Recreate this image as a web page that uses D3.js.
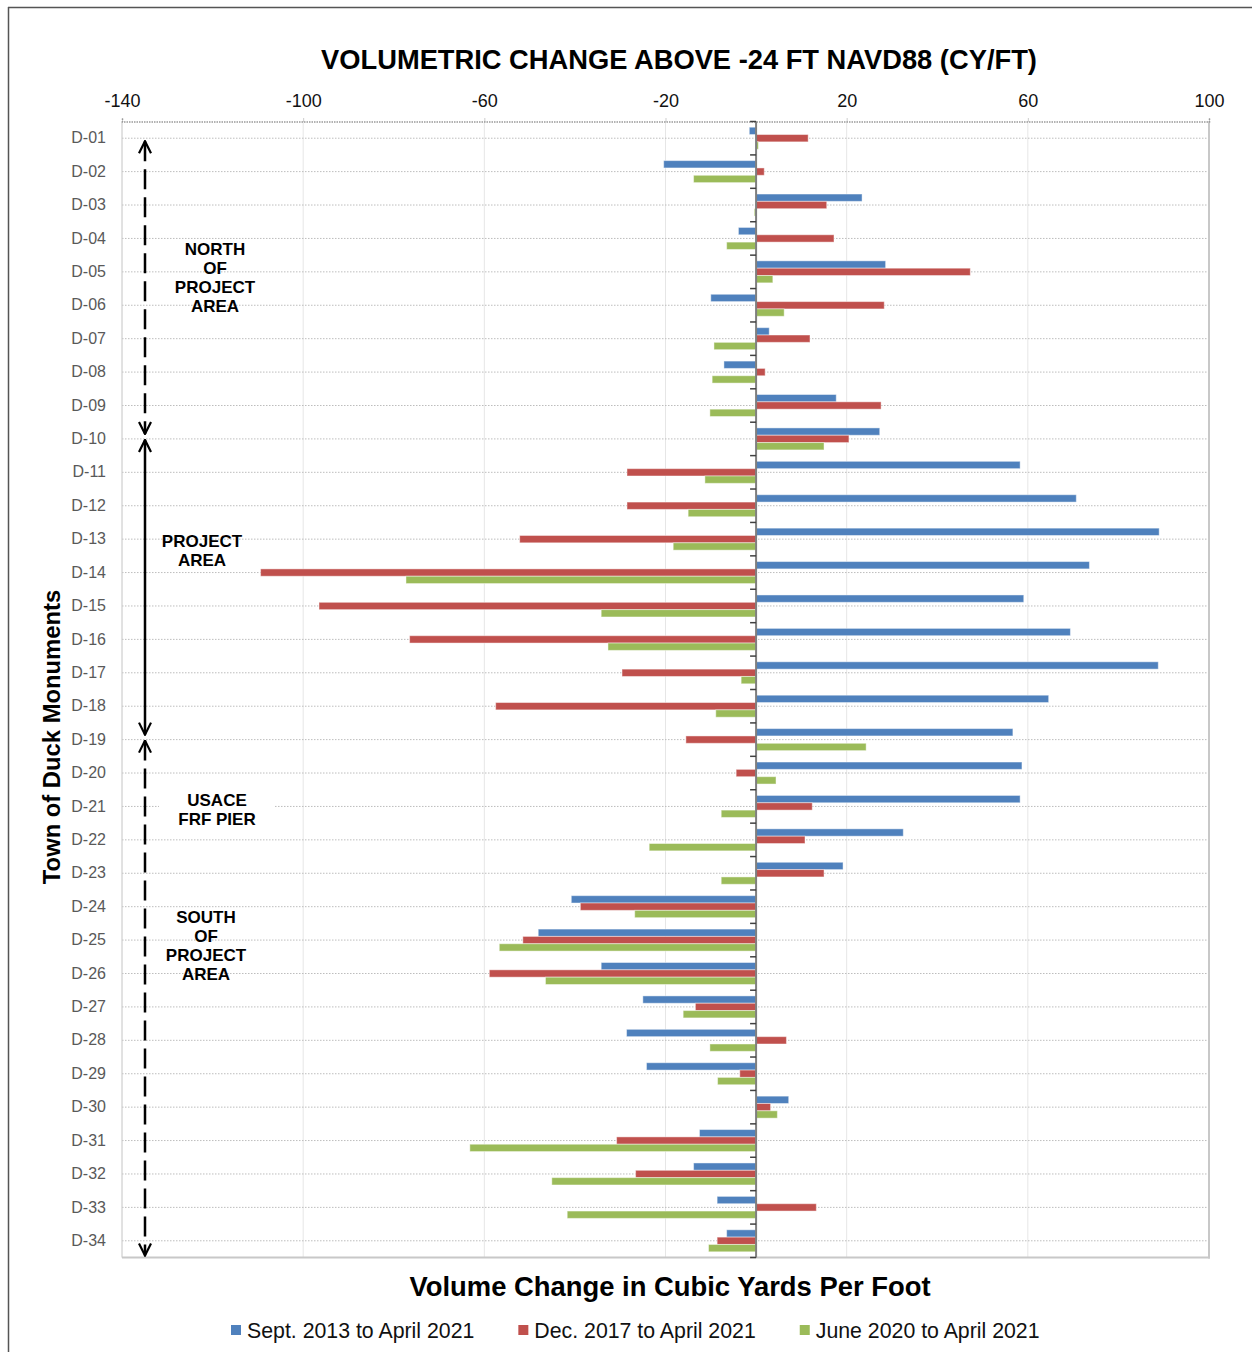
<!DOCTYPE html>
<html>
<head>
<meta charset="utf-8">
<script src="https://cdn.jsdelivr.net/npm/d3@7"></script>
<style>
  body { margin: 0; background: #fff; }
  svg { display: block; font-family: "Liberation Sans", Arial, sans-serif; }
</style>
</head>
<body>
<div id="chart"></div>
<script>
// monument names (rows) and the three survey comparisons (cy/ft)
const monuments = ["D-01","D-02","D-03","D-04","D-05","D-06","D-07","D-08","D-09","D-10",
  "D-11","D-12","D-13","D-14","D-15","D-16","D-17","D-18","D-19","D-20",
  "D-21","D-22","D-23","D-24","D-25","D-26","D-27","D-28","D-29","D-30",
  "D-31","D-32","D-33","D-34"];

const sept2013 = [-1.5, -20.4, 23.4, -3.9, 28.6, -10.0, 2.9, -7.1, 17.7, 27.3,
  58.3, 70.7, 89.0, 73.6, 59.1, 69.4, 88.8, 64.6, 56.7, 58.7,
  58.3, 32.5, 19.2, -40.8, -48.1, -34.2, -25.0, -28.6, -24.2, 7.2,
  -12.5, -13.8, -8.6, -6.5];

const dec2017 = [11.5, 1.8, 15.6, 17.2, 47.3, 28.3, 11.9, 2.0, 27.6, 20.5,
  -28.5, -28.5, -52.2, -109.4, -96.5, -76.5, -29.6, -57.5, -15.5, -4.4,
  12.4, 10.8, 15.0, -38.8, -51.5, -58.9, -13.4, 6.7, -3.6, 3.2,
  -30.8, -26.6, 13.3, -8.6];

const june2020 = [0.5, -13.8, -0.4, -6.5, 3.7, 6.2, -9.3, -9.7, -10.2, 15.0,
  -11.3, -15.0, -18.3, -77.3, -34.2, -32.7, -3.3, -8.9, 24.3, 4.4,
  -7.7, -23.6, -7.7, -26.8, -56.7, -46.5, -16.1, -10.2, -8.5, 4.7,
  -63.2, -45.1, -41.7, -10.5];

const seriesNames = ["Sept. 2013 to April 2021", "Dec. 2017 to April 2021", "June 2020 to April 2021"];
const seriesColors = ["#4f81bd", "#c0504d", "#9bbb59"];
const xTicks = [-140, -100, -60, -20, 20, 60, 100];

// reach annotations along the left edge
const reaches = [
  {from: "D-01", to: "D-10", dashed: true},
  {from: "D-10", to: "D-19", dashed: false},
  {from: "D-19", to: "D-34", dashed: true}
];
const reachLabels = [
  {lines: ["NORTH", "OF", "PROJECT", "AREA"], at: "D-05", dy: 5.5, x: 215, box: false},
  {lines: ["PROJECT", "AREA"], at: "D-13", dy: 11.5, x: 202, box: false},
  {lines: ["USACE", "FRF PIER"], at: "D-21", dy: 3.5, x: 217, box: true},
  {lines: ["SOUTH", "OF", "PROJECT", "AREA"], at: "D-25", dy: 5.5, x: 206, box: false}
];

const width = 1252, height = 1352;
const plot = {left: 122, right: 1209, top: 121.5, bottom: 1257.5};

const data = monuments.map((m, i) => ({
  name: m, values: [sept2013[i], dec2017[i], june2020[i]]
}));

const svg = d3.select("#chart").append("svg")
  .attr("width", width).attr("height", height);

// page frame
svg.append("line").attr("x1", 8).attr("x2", width).attr("y1", 7.5).attr("y2", 7.5)
  .attr("stroke", "#555").attr("stroke-width", 1.5);
svg.append("line").attr("x1", 8.5).attr("x2", 8.5).attr("y1", 7).attr("y2", height)
  .attr("stroke", "#555").attr("stroke-width", 1.5);

const x = d3.scaleLinear().domain([-140, 100]).range([plot.left, plot.right]);
const y = d3.scaleBand().domain(monuments).range([plot.top, plot.bottom]);
const bw = y.bandwidth();
const ySub = d3.scaleBand().domain(d3.range(3)).range([bw / 2 - 11, bw / 2 + 11]);

// vertical grid
svg.append("g").selectAll("line").data(xTicks).join("line")
  .attr("x1", d => x(d)).attr("x2", d => x(d))
  .attr("y1", plot.top).attr("y2", plot.bottom)
  .attr("stroke", "#e6e6e6").attr("stroke-width", 1);

// horizontal dotted grid at monument centres
svg.append("g").selectAll("line").data(monuments).join("line")
  .attr("x1", plot.left).attr("x2", plot.right)
  .attr("y1", d => y(d) + bw / 2).attr("y2", d => y(d) + bw / 2)
  .attr("stroke", "#bdbdbd").attr("stroke-width", 1).attr("stroke-dasharray", "1.5,1.5");

// plot border
svg.append("line").attr("x1", plot.left).attr("x2", plot.left)
  .attr("y1", plot.top).attr("y2", plot.bottom).attr("stroke", "#d0d0d0");
svg.append("line").attr("x1", plot.right).attr("x2", plot.right)
  .attr("y1", plot.top).attr("y2", plot.bottom + 1).attr("stroke", "#c8c8c8").attr("stroke-width", 2);
svg.append("line").attr("x1", plot.left).attr("x2", plot.right + 1)
  .attr("y1", plot.bottom).attr("y2", plot.bottom).attr("stroke", "#c8c8c8").attr("stroke-width", 2);

// top axis
const xAxis = svg.append("g")
  .attr("transform", `translate(0,${plot.top})`)
  .call(d3.axisTop(x).tickValues(xTicks).tickSize(3).tickPadding(12).tickFormat(d3.format("d")));
xAxis.select(".domain").attr("stroke", "#9a9a9a").attr("stroke-width", 1.5).attr("stroke-dasharray", "1.5,1");
xAxis.selectAll(".tick line").attr("stroke", "#9a9a9a").attr("stroke-dasharray", "1,1");
xAxis.selectAll("text").attr("font-size", 18).attr("fill", "#111")
  .attr("font-family", "'Liberation Sans', Arial, sans-serif")
  .text(d => d < 0 ? "-" + Math.abs(d) : d);

// left category axis
const yAxis = svg.append("g")
  .attr("transform", `translate(${plot.left},0)`)
  .call(d3.axisLeft(y).tickSize(0).tickPadding(16));
yAxis.select(".domain").remove();
yAxis.selectAll("text").attr("font-size", 16).attr("fill", "#595959")
  .attr("font-family", "'Liberation Sans', Arial, sans-serif");

// bars
const groups = svg.append("g").selectAll("g").data(data).join("g")
  .attr("transform", d => `translate(0,${y(d.name)})`);
groups.selectAll("rect").data(d => d.values.map((v, k) => ({v, k}))).join("rect")
  .attr("x", d => x(Math.min(0, d.v)))
  .attr("width", d => Math.abs(x(d.v) - x(0)))
  .attr("y", d => ySub(d.k))
  .attr("height", ySub.bandwidth())
  .attr("fill", d => seriesColors[d.k])
  .attr("stroke", "rgba(255,255,255,0.45)")
  .attr("stroke-width", 1);

// zero line with category boundary ticks
svg.append("line").attr("x1", x(0)).attr("x2", x(0))
  .attr("y1", plot.top).attr("y2", plot.bottom)
  .attr("stroke", "#7f7f7f").attr("stroke-width", 2);
const bounds = monuments.map(m => y(m)).concat([plot.bottom]);
svg.append("g").selectAll("line").data(bounds).join("line")
  .attr("x1", x(0) - 6).attr("x2", x(0))
  .attr("y1", d => d).attr("y2", d => d)
  .attr("stroke", "#404040").attr("stroke-width", 1.5);

// reach arrows
const defs = svg.append("defs");
defs.append("marker").attr("id", "head")
  .attr("viewBox", "0 0 14 14").attr("refX", 13).attr("refY", 7)
  .attr("markerWidth", 14).attr("markerHeight", 14).attr("markerUnits", "userSpaceOnUse")
  .attr("orient", "auto-start-reverse")
  .append("path").attr("d", "M1,1 L13,7 L1,13")
  .attr("fill", "none").attr("stroke", "#000").attr("stroke-width", 2.2);

const arrowX = 145;
svg.append("g").selectAll("line").data(reaches).join("line")
  .attr("x1", arrowX).attr("x2", arrowX)
  .attr("y1", (d, i) => y(d.from) + bw / 2 + (i === 0 ? 3 : 1))
  .attr("y2", (d, i) => i === reaches.length - 1 ? plot.bottom - 2 : y(d.to) + bw / 2 - 5)
  .attr("stroke", "#000").attr("stroke-width", 2.5)
  .attr("stroke-dasharray", d => d.dashed ? "20,8" : null)
  .attr("marker-start", "url(#head)")
  .attr("marker-end", "url(#head)");

// reach labels
reachLabels.forEach(l => {
  const lh = 19;
  const cy = y(l.at) + bw / 2 + l.dy - (l.lines.length - 1) * lh / 2;
  const g = svg.append("g");
  if (l.box) {
    g.append("rect").attr("x", l.x - 58).attr("y", cy - 14)
      .attr("width", 116).attr("height", lh * l.lines.length + 6)
      .attr("fill", "#fff");
  }
  g.selectAll("text").data(l.lines).join("text")
    .attr("x", l.x).attr("y", (d, i) => cy + i * lh + 6)
    .attr("text-anchor", "middle")
    .attr("font-size", 17).attr("font-weight", "bold").attr("fill", "#000")
    .text(d => d);
});

// titles
svg.append("text").attr("x", 679).attr("y", 69).attr("text-anchor", "middle")
  .attr("font-size", 27.3).attr("font-weight", "bold")
  .text("VOLUMETRIC CHANGE ABOVE -24 FT NAVD88 (CY/FT)");
svg.append("text").attr("x", 670).attr("y", 1296).attr("text-anchor", "middle")
  .attr("font-size", 27.4).attr("font-weight", "bold")
  .text("Volume Change in Cubic Yards Per Foot");
svg.append("text").attr("transform", "translate(60,737) rotate(-90)")
  .attr("text-anchor", "middle")
  .attr("font-size", 23.8).attr("font-weight", "bold")
  .text("Town of Duck Monuments");

// legend
const legend = svg.append("g").attr("transform", "translate(231,1330)");
let lx = 0;
seriesNames.forEach((name, i) => {
  const item = legend.append("g").attr("transform", `translate(${lx},0)`);
  item.append("rect").attr("x", 0).attr("y", -5).attr("width", 10).attr("height", 10)
    .attr("fill", seriesColors[i]);
  const t = item.append("text").attr("x", 16).attr("y", 7.5)
    .attr("font-size", 21.3).attr("fill", "#111").text(name);
  lx += 16 + t.node().getComputedTextLength() + 44;
});
</script>
</body>
</html>
